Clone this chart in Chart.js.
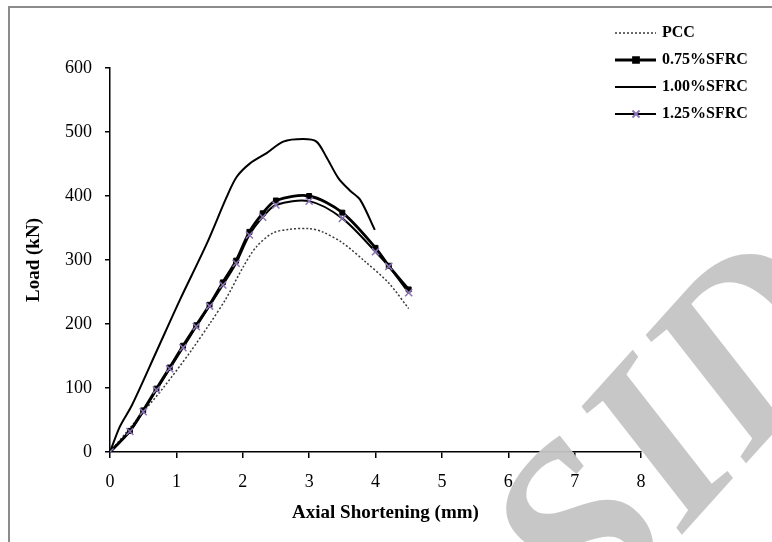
<!DOCTYPE html>
<html>
<head>
<meta charset="utf-8">
<script src="https://cdn.jsdelivr.net/npm/chart.js@4.4.1/dist/chart.umd.min.js"></script>
<style>
    html, body { margin: 0; padding: 0; background: #fff; }
    canvas { display: block; }
</style>
</head>
<body>
<canvas id="loadChart" width="772" height="542"></canvas>
<script>
// --- DATOS ---
const seriesNames = ["PCC", "0.75%SFRC", "1.00%SFRC", "1.25%SFRC"];

const pccX = [0, 0.4, 0.8, 1.2, 1.5, 1.75, 2.0, 2.2, 2.45, 2.7, 3.0, 3.2, 3.5, 3.85, 4.2, 4.5];
const pccY = [0, 50, 100, 155, 200, 240, 288, 320, 342, 348, 349, 344, 327, 297, 264, 224];

const sfrc075X = [0, 0.3, 0.5, 0.7, 0.9, 1.1, 1.3, 1.5, 1.7, 1.9, 2.1, 2.3, 2.5, 3.0, 3.5, 4.0, 4.2, 4.5];
const sfrc075Y = [0, 33, 65, 99, 132, 166, 198, 230, 265, 299, 344, 373, 393, 400, 374, 319, 291, 254];

const sfrc100X = [0, 0.15, 0.33, 0.7, 1.05, 1.46, 1.76, 1.91, 2.11, 2.36, 2.61, 2.91, 3.11, 3.26, 3.44, 3.61, 3.77, 3.99];
const sfrc100Y = [0, 40, 73, 157, 237, 326, 399, 430, 451, 467, 485, 489, 485, 461, 428, 409, 394, 347];

const sfrc125X = [0, 0.3, 0.5, 0.7, 0.9, 1.1, 1.3, 1.5, 1.7, 1.9, 2.1, 2.3, 2.5, 3.0, 3.5, 4.0, 4.2, 4.5];
const sfrc125Y = [0, 32, 63, 97, 130, 163, 196, 228, 261, 295, 339, 367, 386, 392, 365, 313, 290, 249];

const xTicks = [0, 1, 2, 3, 4, 5, 6, 7, 8];
const yTicks = [0, 100, 200, 300, 400, 500, 600];

const xTitle = "Axial Shortening (mm)";
const yTitle = "Load (kN)";

const serif = "'Liberation Serif', 'Times New Roman', serif";

function toPoints(xs, ys) {
    return xs.map((x, i) => ({ x: x, y: ys[i] }));
}

// Marco gris (solo lados izquierdo y superior)
const framePlugin = {
    id: "frame",
    beforeDraw(chart) {
        const ctx = chart.ctx;
        ctx.save();
        ctx.strokeStyle = "#8c8c8c";
        ctx.lineWidth = 2;
        ctx.beginPath();
        ctx.moveTo(9, chart.height);
        ctx.lineTo(9, 7);
        ctx.lineTo(chart.width, 7);
        ctx.stroke();
        ctx.restore();
    }
};

// Titulo del eje X (un poco corrido a la derecha, como en el original)
const xTitlePlugin = {
    id: "xTitle",
    afterDraw(chart) {
        const ctx = chart.ctx;
        const area = chart.chartArea;
        ctx.save();
        ctx.font = "bold 19px " + serif;
        ctx.fillStyle = "#000";
        ctx.textAlign = "center";
        ctx.textBaseline = "middle";
        ctx.fillText(xTitle, (area.left + area.right) / 2 + 10, 513);
        ctx.restore();
    }
};

// Leyenda a mano, arriba a la derecha
const legendPlugin = {
    id: "sideLegend",
    afterDraw(chart) {
        const ctx = chart.ctx;
        ctx.save();
        ctx.font = "bold 16px " + serif;
        ctx.textBaseline = "middle";
        seriesNames.forEach((name, i) => {
            const ds = chart.data.datasets.find(d => d.label === name);
            const y = 33 + i * 27;
            ctx.strokeStyle = ds.borderColor;
            ctx.lineWidth = ds.borderWidth;
            ctx.setLineDash(ds.borderDash || []);
            ctx.beginPath();
            ctx.moveTo(615, y);
            ctx.lineTo(656, y);
            ctx.stroke();
            ctx.setLineDash([]);
            if (ds.pointRadius > 0) {
                ctx.fillStyle = ds.pointBackgroundColor;
                ctx.strokeStyle = ds.pointBorderColor;
                Chart.helpers.drawPoint(ctx, {
                    pointStyle: ds.pointStyle,
                    radius: ds.pointRadius,
                    borderWidth: ds.pointBorderWidth,
                    rotation: 0
                }, 636, y);
            }
            ctx.fillStyle = "#000";
            ctx.fillText(name, 662, y);
        });
        ctx.restore();
    }
};

// Marca de agua gris, girada
const watermarkPlugin = {
    id: "watermark",
    afterDraw(chart) {
        const ctx = chart.ctx;
        ctx.save();
        ctx.translate(682, 440);
        ctx.rotate(-48 * Math.PI / 180);
        ctx.font = "italic bold 245px " + serif;
        ctx.fillStyle = "rgba(196, 196, 196, 0.95)";
        ctx.textAlign = "center";
        ctx.textBaseline = "middle";
        ctx.fillText("SID", 0, 0);
        ctx.restore();
    }
};

function makeDataset(label, xs, ys, style) {
    return Object.assign({
        label: label,
        data: toPoints(xs, ys),
        showLine: true,
        fill: false,
        tension: 0.3,
        borderColor: "#000",
        borderWidth: 2,
        pointRadius: 0,
        pointHoverRadius: 0
    }, style);
}

const datasets = [
    makeDataset("PCC", pccX, pccY, {
        borderColor: "#3a3a3a",
        borderWidth: 1.5,
        borderDash: [2, 2],
        order: 3
    }),
    makeDataset("0.75%SFRC", sfrc075X, sfrc075Y, {
        borderWidth: 2.8,
        pointStyle: "rect",
        pointRadius: 3.5,
        pointBackgroundColor: "#000",
        pointBorderColor: "#000",
        pointBorderWidth: 1,
        order: 1
    }),
    makeDataset("1.00%SFRC", sfrc100X, sfrc100Y, {
        order: 2
    }),
    makeDataset("1.25%SFRC", sfrc125X, sfrc125Y, {
        pointStyle: "crossRot",
        pointRadius: 5,
        pointBackgroundColor: "#8b74b4",
        pointBorderColor: "#8b74b4",
        pointBorderWidth: 1.5,
        order: 0
    })
];

const ctx = document.getElementById("loadChart").getContext("2d");

new Chart(ctx, {
    type: "scatter",
    data: { datasets: datasets },
    plugins: [framePlugin, xTitlePlugin, legendPlugin, watermarkPlugin],
    options: {
        responsive: false,
        animation: false,
        layout: { padding: { top: 68, right: 131, left: 0, bottom: 0 } },
        plugins: {
            legend: { display: false },
            tooltip: { enabled: false }
        },
        scales: {
            x: {
                type: "linear",
                min: xTicks[0],
                max: xTicks[xTicks.length - 1],
                afterBuildTicks: scale => { scale.ticks = xTicks.map(v => ({ value: v })); },
                afterFit: scale => { scale.height = 90; },
                ticks: {
                    color: "#000",
                    padding: 13,
                    font: { family: serif, size: 18 }
                },
                grid: { drawOnChartArea: false, tickLength: 6, color: "#000", lineWidth: 1.5 },
                border: { color: "#000", width: 1.5 },
                title: { display: false }
            },
            y: {
                type: "linear",
                min: yTicks[0],
                max: yTicks[yTicks.length - 1],
                afterBuildTicks: scale => { scale.ticks = yTicks.map(v => ({ value: v })); },
                afterFit: scale => { scale.width = 110; },
                ticks: {
                    color: "#000",
                    padding: 13,
                    font: { family: serif, size: 18 }
                },
                grid: { drawOnChartArea: false, tickLength: 5, color: "#000", lineWidth: 1.5 },
                border: { color: "#000", width: 1.5 },
                title: {
                    display: true,
                    text: yTitle,
                    color: "#000",
                    font: { family: serif, size: 19, weight: "bold" },
                    padding: { top: 23, bottom: 4 }
                }
            }
        }
    }
});
</script>
</body>
</html>
